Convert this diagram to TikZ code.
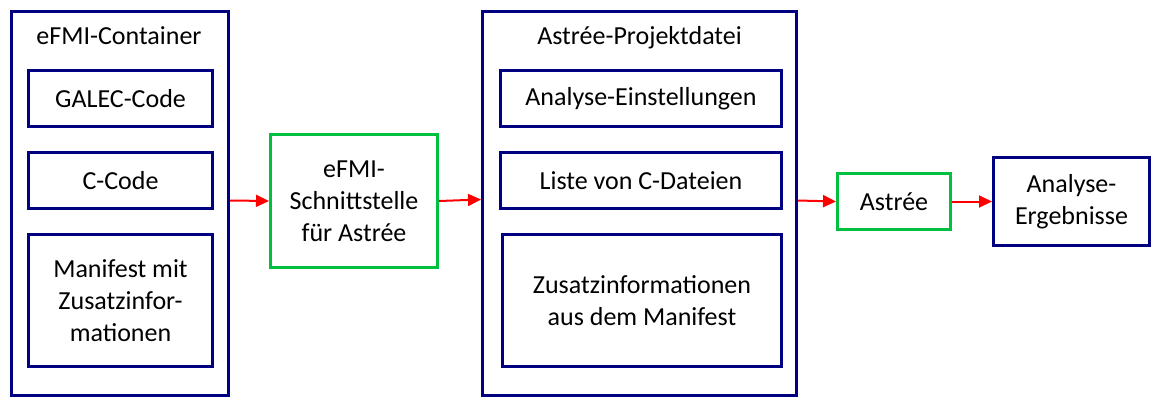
\documentclass[tikz,border=0pt]{standalone}
\usepackage{fontspec}
\setmainfont{Carlito}
\usetikzlibrary{arrows.meta}
\definecolor{navy}{RGB}{0,0,128}
\definecolor{grn}{RGB}{0,192,64}
\begin{document}
\begin{tikzpicture}[x=1pt,y=-1pt,
  box/.style={draw=navy, line width=3pt, align=center, inner sep=0pt, font=\fontsize{26}{32}\selectfont},
  gbox/.style={box, draw=grn},
  lbl/.style={inner sep=0pt, anchor=base, font=\fontsize{26}{32}\selectfont},
  arr/.style={draw=red, line width=2pt, -{Triangle[length=13pt,width=12pt]}}]
\useasboundingbox (0,0) rectangle (1161,407);
% left container
\node[box, minimum width=217, minimum height=384] (cont) at (120,203.5) {};
\node[lbl] (conttitle) at (119,44) {eFMI-Container};
\node[box, minimum width=184, minimum height=56] (galec) at (120.5,98.5) {GALEC-Code};
\node[box, minimum width=184, minimum height=56] (ccode) at (120.5,180.5) {C-Code};
\node[box, minimum width=184, minimum height=132] (manif) at (120.5,300.5) {Manifest mit\\Zusatzinfor-\\mationen};
% interface
\node[gbox, minimum width=167, minimum height=133] (iface) at (354,201) {eFMI-\\Schnittstelle\\für Astrée};
% project container
\node[box, minimum width=314, minimum height=384] (proj) at (639.5,203.5) {};
\node[lbl] (projtitle) at (639.5,44) {Astrée-Projektdatei};
\node[box, minimum width=281, minimum height=56] (einst) at (641,98.5) {Analyse-Einstellungen};
\node[box, minimum width=281, minimum height=56] (liste) at (641,180.5) {Liste von C-Dateien};
\node[box, minimum width=279, minimum height=132] (zusatz) at (642,300.5) {Zusatzinformationen\\aus dem Manifest};
% Astree and results
\node[gbox, minimum width=113, minimum height=56] (astree) at (894,201.5) {Astrée};
\node[box, minimum width=156, minimum height=88] (result) at (1071.5,201.5) {Analyse-\\Ergebnisse};
% arrows
\draw[arr] ([yshift=3pt]cont.east) -- (iface.west);
\draw[arr] (iface.east) -- ([yshift=4pt]proj.west);
\draw[arr] ([yshift=3pt]proj.east) -- (astree.west);
\draw[arr] (astree.east) -- (result.west);
\end{tikzpicture}
\end{document}
